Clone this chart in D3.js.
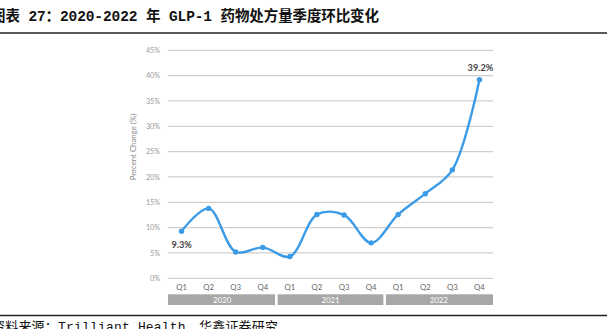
<!DOCTYPE html>
<html><head><meta charset="utf-8">
<script src="https://cdn.jsdelivr.net/npm/d3@7"></script>
<style>
html,body{margin:0;padding:0;background:#fff;overflow:hidden;}
svg{display:block;}
</style></head>
<body>
<svg id="c" width="607" height="329"></svg>
<script>
const years = ["2020","2021","2022"];
const quarters = ["Q1","Q2","Q3","Q4"];
const categories = ["2020-Q1","2020-Q2","2020-Q3","2020-Q4","2021-Q1","2021-Q2","2021-Q3","2021-Q4","2022-Q1","2022-Q2","2022-Q3","2022-Q4"];
const values = [9.3, 13.8, 5.2, 6.1, 4.3, 12.6, 12.5, 7.0, 12.6, 16.7, 21.4, 39.2];
const yTicks = [0,5,10,15,20,25,30,35,40,45];
const labelled = [{i:0, text:"9.3%"}, {i:11, text:"39.2%"}];
const titleText = "图表 27：2020-2022 年 GLP-1 药物处方量季度环比变化";
const sourceText = "资料来源：Trilliant Health，华鑫证券研究";

const svg = d3.select("#c");
const font = "Lato, 'Open Sans', sans-serif";

// title
svg.append("text").attr("x",-9).attr("y",20.8)
  .attr("font-family","'Liberation Mono', 'Noto Sans CJK SC', monospace").attr("font-weight","bold")
  .attr("font-size",14.5).attr("fill","#111")
  .attr("textLength",388).attr("lengthAdjust","spacing").text(titleText);
svg.append("line").attr("x1",0).attr("x2",607).attr("y1",33).attr("y2",33)
  .attr("stroke","#222").attr("stroke-width",1.3);
svg.append("line").attr("x1",0).attr("x2",607).attr("y1",315.5).attr("y2",315.5)
  .attr("stroke","#222").attr("stroke-width",1.3);
svg.append("text").attr("x",-8).attr("y",331)
  .attr("font-family","'Liberation Mono', 'Noto Sans CJK SC', monospace")
  .attr("font-size",13).attr("fill","#111")
  .attr("textLength",286).attr("lengthAdjust","spacing").text(sourceText);

const x = d3.scaleBand().domain(categories).range([168,493]);
const y = d3.scaleLinear().domain([0,45]).range([278.3,50.3]);

// gridlines
const g = svg.append("g");
g.selectAll("line.grid").data(yTicks).join("line")
  .attr("x1",168).attr("x2",493)
  .attr("y1",d=>y(d)).attr("y2",d=>y(d))
  .attr("stroke","#cfcfcf").attr("stroke-width",1.2);

// y axis labels
const yAxis = d3.axisLeft(y).tickValues(yTicks).tickFormat(d=>d+"%").tickSize(0).tickPadding(0);
const ya = svg.append("g").attr("transform","translate(160,0)").call(yAxis);
ya.select(".domain").remove();
ya.selectAll("text").attr("font-family",font).attr("font-size",7.2).attr("fill","#9a9a9a");

svg.append("text")
  .attr("transform","translate(135.5,147) rotate(-90)")
  .attr("text-anchor","middle").attr("font-family",font).attr("font-size",7.8)
  .attr("fill","#8a8a8a").text("Percent Change (%)");

// quarter labels
const xAxis = d3.axisBottom(x).tickFormat(d=>d.split("-")[1]).tickSize(0).tickPadding(0);
const xa = svg.append("g").attr("transform","translate(0,284)").call(xAxis);
xa.select(".domain").remove();
xa.selectAll("text").attr("font-family",font).attr("font-size",7.8).attr("fill","#666");

// year bands
const yearBand = years.map(yr => {
  const cats = categories.filter(c=>c.startsWith(yr));
  return {yr, x0: x(cats[0]), x1: x(cats[cats.length-1]) + x.bandwidth()};
});
svg.selectAll("rect.year").data(yearBand).join("rect")
  .attr("x",(d,i)=>d.x0 + (i>0?1.3:0)).attr("width",(d,i)=>d.x1-d.x0-(i>0?1.3:0)-(i<years.length-1?1.3:0))
  .attr("y",294.3).attr("height",10.7).attr("fill","#a7a7a7");
svg.selectAll("text.year").data(yearBand).join("text")
  .attr("x",d=>(d.x0+d.x1)/2).attr("y",302.8).attr("text-anchor","middle")
  .attr("font-family",font).attr("font-size",7.8).attr("fill","#fff").text(d=>d.yr);

// data labels with white background boxes
const cx = i => x(categories[i]) + x.bandwidth()/2;
const lbl = [
  {i:0, text:labelled[0].text, dx:-10, dy:17},
  {i:11, text:labelled[1].text, dx:1, dy:-9}
];
lbl.forEach(l=>{
  const t = svg.append("text").attr("x",cx(l.i)+l.dx).attr("y",y(values[l.i])+l.dy)
    .attr("font-family",font).attr("font-weight","bold").attr("font-size",9.2)
    .attr("fill","#444").attr("text-anchor", l.i===0 ? "start" : "middle").text(l.text);
  const bb = t.node().getBBox();
  svg.insert("rect","text").attr("x",bb.x-3).attr("y",bb.y-3).attr("width",bb.width+6).attr("height",bb.height+6)
    .attr("fill","#fff");
});
svg.selectAll("text").raise();

// line
const line = d3.line().x((d,i)=>cx(i)).y(d=>y(d)).curve(d3.curveCatmullRom.alpha(0.5));
svg.append("path").datum(values).attr("d",line).attr("fill","none")
  .attr("stroke","#3c9be6").attr("stroke-width",2.4).attr("stroke-linejoin","round");
svg.selectAll("circle.pt").data(values).join("circle")
  .attr("cx",(d,i)=>cx(i)).attr("cy",d=>y(d)).attr("r",2.7).attr("fill","#3c9be6");
</script>
</body></html>
